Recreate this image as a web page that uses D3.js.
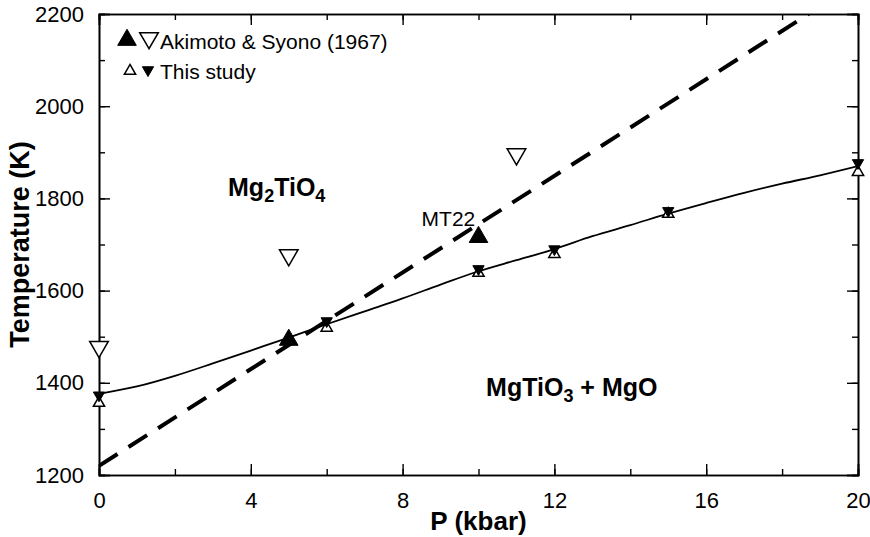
<!DOCTYPE html>
<html>
<head>
<meta charset="utf-8">
<script src="https://cdn.jsdelivr.net/npm/d3@7"></script>
<style>
  body { margin: 0; background: #fff; }
  text { font-family: "Liberation Sans", Arial, sans-serif; }
  .narrow { font-family: "Liberation Sans Narrow", "Liberation Sans", Arial, sans-serif; }
</style>
</head>
<body>
<div id="chart"></div>
<script>
// Data
var solidP = [0, 1, 2, 3, 4, 5, 6, 7, 8, 9, 10, 11, 12, 13, 14, 15, 16, 17, 18, 19, 20];
var solidT = [1376, 1392, 1415, 1442, 1470, 1498, 1527, 1555, 1583, 1613, 1642, 1666, 1690, 1718, 1742, 1767, 1790, 1812, 1832, 1850, 1870];

var dashP = [0, 18.7];
var dashT = [1220, 2200];

var akiFilledP = [5, 10];
var akiFilledT = [1493, 1716];
var akiOpenP = [0, 5, 11];
var akiOpenT = [1478, 1677, 1896];

var studyOpenP = [0, 6, 10, 12, 15, 20];
var studyOpenT = [1356, 1519, 1638, 1679, 1766, 1857];
var studyFilledP = [0, 6, 10, 12, 15, 20];
var studyFilledT = [1373, 1534, 1647, 1690, 1773, 1877];

var xTicks = [0, 4, 8, 12, 16, 20];
var yTicks = [1200, 1400, 1600, 1800, 2000, 2200];

// Chart area
var svgWidth = 870;
var svgHeight = 537;
var margin = { top: 14, right: 12, bottom: 62, left: 99 };
var width = svgWidth - margin.left - margin.right;
var height = svgHeight - margin.top - margin.bottom;

var svg = d3.select("#chart")
  .append("svg")
  .attr("width", svgWidth)
  .attr("height", svgHeight);

var chartGroup = svg.append("g")
  .attr("transform", `translate(${margin.left}, ${margin.top})`);

var x = d3.scaleLinear().domain([0, 20]).range([0, width]);
var y = d3.scaleLinear().domain([1200, 2200]).range([height, 0]);

// Axes: inward ticks on all four sides
function styleAxis(g) {
  g.select(".domain").attr("stroke", "#000").attr("stroke-width", 1.6);
  g.selectAll(".tick line").attr("stroke", "#000").attr("stroke-width", 1.4);
}

var minorX = d3.range(0, 21, 2);
var minorY = d3.range(1200, 2201, 100);

chartGroup.append("g")
  .attr("transform", `translate(0, ${height})`)
  .call(d3.axisBottom(x).tickValues(minorX).tickSize(-6).tickFormat(""))
  .call(styleAxis);
chartGroup.append("g")
  .attr("transform", `translate(0, ${height})`)
  .call(d3.axisBottom(x).tickValues(xTicks).tickSize(-11).tickPadding(17).tickFormat(d3.format("d")))
  .call(styleAxis)
  .selectAll("text")
  .attr("class", "narrow")
  .attr("font-size", 22)
  .attr("fill", "#000");

chartGroup.append("g")
  .call(d3.axisTop(x).tickValues(minorX).tickSize(-6).tickFormat(""))
  .call(styleAxis);
chartGroup.append("g")
  .call(d3.axisTop(x).tickValues(xTicks).tickSize(-11).tickFormat(""))
  .call(styleAxis);

chartGroup.append("g")
  .call(d3.axisLeft(y).tickValues(minorY).tickSize(-6).tickFormat(""))
  .call(styleAxis);
chartGroup.append("g")
  .call(d3.axisLeft(y).tickValues(yTicks).tickSize(-11).tickPadding(15).tickFormat(d3.format("d")))
  .call(styleAxis)
  .selectAll("text")
  .attr("class", "narrow")
  .attr("font-size", 22)
  .attr("fill", "#000");

chartGroup.append("g")
  .attr("transform", `translate(${width}, 0)`)
  .call(d3.axisRight(y).tickValues(minorY).tickSize(-6).tickFormat(""))
  .call(styleAxis);
chartGroup.append("g")
  .attr("transform", `translate(${width}, 0)`)
  .call(d3.axisRight(y).tickValues(yTicks).tickSize(-11).tickFormat(""))
  .call(styleAxis);

// Clip for lines
chartGroup.append("clipPath").attr("id", "clip")
  .append("rect").attr("width", width).attr("height", height);

var line = d3.line()
  .x(d => x(d[0]))
  .y(d => y(d[1]))
  .curve(d3.curveMonotoneX);

chartGroup.append("path")
  .datum(solidP.map((p, i) => [p, solidT[i]]))
  .attr("clip-path", "url(#clip)")
  .attr("fill", "none")
  .attr("stroke", "#000")
  .attr("stroke-width", 1.8)
  .attr("d", line);

chartGroup.append("path")
  .datum(dashP.map((p, i) => [p, dashT[i]]))
  .attr("clip-path", "url(#clip)")
  .attr("fill", "none")
  .attr("stroke", "#000")
  .attr("stroke-width", 4)
  .attr("stroke-dasharray", "22,13")
  .attr("d", d3.line().x(d => x(d[0])).y(d => y(d[1])));

// Markers
var bigTri = d3.symbol().type(d3.symbolTriangle).size(150);
var smallTri = d3.symbol().type(d3.symbolTriangle).size(55);

function drawMarks(ps, ts, sym, filled, down) {
  chartGroup.selectAll(null)
    .data(ps.map((p, i) => [p, ts[i]]))
    .enter()
    .append("path")
    .attr("d", sym)
    .attr("transform", d => `translate(${x(d[0])}, ${y(d[1])})` + (down ? " rotate(180)" : ""))
    .attr("fill", filled ? "#000" : "#fff")
    .attr("stroke", "#000")
    .attr("stroke-width", filled ? 1 : 1.5);
}

drawMarks(akiOpenP, akiOpenT, bigTri, false, true);
drawMarks(akiFilledP, akiFilledT, bigTri, true, false);
drawMarks(studyOpenP, studyOpenT, smallTri, false, false);
drawMarks(studyFilledP, studyFilledT, smallTri, true, true);

// Legend
var legend = chartGroup.append("g");
legend.append("path").attr("d", bigTri)
  .attr("transform", "translate(28, 26)")
  .attr("fill", "#000").attr("stroke", "#000");
legend.append("path").attr("d", bigTri)
  .attr("transform", "translate(50, 24) rotate(180)")
  .attr("fill", "#fff").attr("stroke", "#000").attr("stroke-width", 1.5);
legend.append("text").attr("x", 61).attr("y", 35)
  .attr("font-size", 21).text("Akimoto & Syono (1967)");
legend.append("path").attr("d", smallTri)
  .attr("transform", "translate(31, 57)")
  .attr("fill", "#fff").attr("stroke", "#000").attr("stroke-width", 1.5);
legend.append("path").attr("d", smallTri)
  .attr("transform", "translate(49, 56) rotate(180)")
  .attr("fill", "#000").attr("stroke", "#000");
legend.append("text").attr("x", 61).attr("y", 65)
  .attr("font-size", 21).text("This study");

// Region labels
var lab1 = chartGroup.append("text")
  .attr("x", x(3.4)).attr("y", y(1805))
  .attr("font-size", 25).attr("font-weight", "bold");
lab1.append("tspan").text("Mg");
lab1.append("tspan").attr("font-size", 18).attr("dy", 6).text("2");
lab1.append("tspan").attr("dy", -6).text("TiO");
lab1.append("tspan").attr("font-size", 18).attr("dy", 6).text("4");

var lab2 = chartGroup.append("text")
  .attr("x", x(10.2)).attr("y", y(1372))
  .attr("font-size", 25).attr("font-weight", "bold");
lab2.append("tspan").text("MgTiO");
lab2.append("tspan").attr("font-size", 18).attr("dy", 6).text("3");
lab2.append("tspan").attr("dy", -6).text(" + MgO");

chartGroup.append("text")
  .attr("x", x(8.5)).attr("y", y(1740))
  .attr("font-size", 21).text("MT22");

// Axis titles
chartGroup.append("text")
  .attr("transform", "rotate(-90)")
  .attr("x", -height / 2)
  .attr("y", -margin.left + 29)
  .attr("text-anchor", "middle")
  .attr("font-size", 27)
  .attr("font-weight", "bold")
  .text("Temperature (K)");

chartGroup.append("text")
  .attr("x", width / 2)
  .attr("y", height + 55)
  .attr("text-anchor", "middle")
  .attr("font-size", 26)
  .attr("font-weight", "bold")
  .text("P (kbar)");
</script>
</body>
</html>
